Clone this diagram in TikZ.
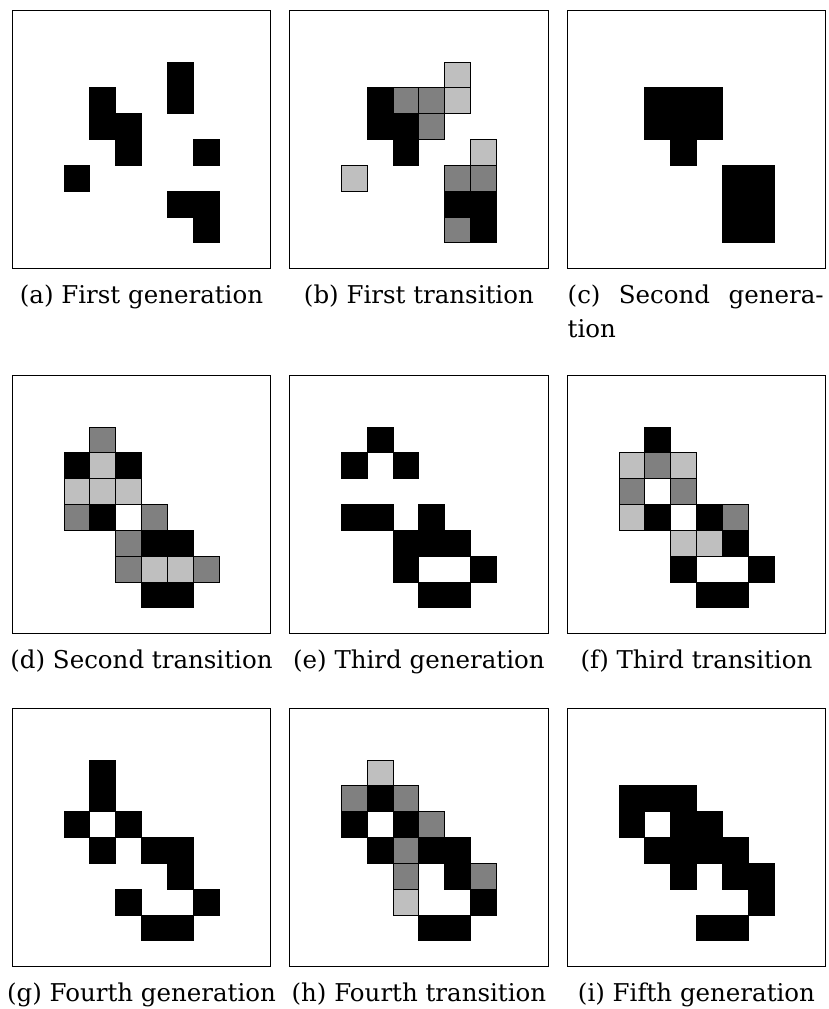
\documentclass[tikz,border=0pt]{standalone}
\usepackage{fontspec}
\setmainfont{DejaVu Serif}
\begin{document}
\begin{tikzpicture}[x=1pt,y=-1pt]
\tikzset{
  cellB/.style={fill=black, draw=black, line width=0.9pt},
  cellG/.style={fill=black!50, draw=black, line width=0.9pt},
  cellL/.style={fill=black!25, draw=black, line width=0.9pt},
  panelframe/.style={draw=black, line width=1pt},
  captext/.style={font=\fontsize{24.5}{34}\selectfont, anchor=base, inner sep=0pt},
}
\def\cs{25.84}
\useasboundingbox[fill=white] (0,0) rectangle (829,1009);
% (a)
\begin{scope}[shift={(12.3,10.3)}]
  \foreach \c/\r in {3/3,3/4,4/4,4/5,6/2,6/3,7/5,2/6,6/7,7/7,7/8}
    \path[cellB] ({\c*\cs},{\r*\cs}) rectangle ++(\cs,\cs);
  \path[panelframe] (0,0) rectangle (258.4,258.4);
\end{scope}
% (b)
\begin{scope}[shift={(289.7,10.3)}]
  \foreach \c/\r in {3/3,3/4,4/4,4/5,6/7,7/7,7/8}
    \path[cellB] ({\c*\cs},{\r*\cs}) rectangle ++(\cs,\cs);
  \foreach \c/\r in {4/3,5/3,5/4,6/6,7/6,6/8}
    \path[cellG] ({\c*\cs},{\r*\cs}) rectangle ++(\cs,\cs);
  \foreach \c/\r in {6/2,6/3,7/5,2/6}
    \path[cellL] ({\c*\cs},{\r*\cs}) rectangle ++(\cs,\cs);
  \path[panelframe] (0,0) rectangle (258.4,258.4);
\end{scope}
% (c)
\begin{scope}[shift={(567.3,10.3)}]
  \foreach \c/\r in {3/3,4/3,5/3,3/4,4/4,5/4,4/5,6/6,7/6,6/7,7/7,6/8,7/8}
    \path[cellB] ({\c*\cs},{\r*\cs}) rectangle ++(\cs,\cs);
  \path[panelframe] (0,0) rectangle (258.4,258.4);
\end{scope}
% (d)
\begin{scope}[shift={(12.3,375.3)}]
  \foreach \c/\r in {2/3,4/3,3/5,5/6,6/6,5/8,6/8}
    \path[cellB] ({\c*\cs},{\r*\cs}) rectangle ++(\cs,\cs);
  \foreach \c/\r in {3/2,2/5,5/5,4/6,4/7,7/7}
    \path[cellG] ({\c*\cs},{\r*\cs}) rectangle ++(\cs,\cs);
  \foreach \c/\r in {3/3,2/4,3/4,4/4,5/7,6/7}
    \path[cellL] ({\c*\cs},{\r*\cs}) rectangle ++(\cs,\cs);
  \path[panelframe] (0,0) rectangle (258.4,258.4);
\end{scope}
% (e)
\begin{scope}[shift={(289.7,375.3)}]
  \foreach \c/\r in {3/2,2/3,4/3,2/5,3/5,5/5,4/6,5/6,6/6,4/7,7/7,5/8,6/8}
    \path[cellB] ({\c*\cs},{\r*\cs}) rectangle ++(\cs,\cs);
  \path[panelframe] (0,0) rectangle (258.4,258.4);
\end{scope}
% (f)
\begin{scope}[shift={(567.3,375.3)}]
  \foreach \c/\r in {3/2,3/5,5/5,6/6,4/7,7/7,5/8,6/8}
    \path[cellB] ({\c*\cs},{\r*\cs}) rectangle ++(\cs,\cs);
  \foreach \c/\r in {3/3,2/4,4/4,6/5}
    \path[cellG] ({\c*\cs},{\r*\cs}) rectangle ++(\cs,\cs);
  \foreach \c/\r in {2/3,4/3,2/5,4/6,5/6}
    \path[cellL] ({\c*\cs},{\r*\cs}) rectangle ++(\cs,\cs);
  \path[panelframe] (0,0) rectangle (258.4,258.4);
\end{scope}
% (g)
\begin{scope}[shift={(12.3,708.3)}]
  \foreach \c/\r in {3/2,3/3,2/4,4/4,3/5,5/5,6/5,6/6,4/7,7/7,5/8,6/8}
    \path[cellB] ({\c*\cs},{\r*\cs}) rectangle ++(\cs,\cs);
  \path[panelframe] (0,0) rectangle (258.4,258.4);
\end{scope}
% (h)
\begin{scope}[shift={(289.7,708.3)}]
  \foreach \c/\r in {3/3,2/4,4/4,3/5,5/5,6/5,6/6,7/7,5/8,6/8}
    \path[cellB] ({\c*\cs},{\r*\cs}) rectangle ++(\cs,\cs);
  \foreach \c/\r in {2/3,4/3,5/4,4/5,4/6,7/6}
    \path[cellG] ({\c*\cs},{\r*\cs}) rectangle ++(\cs,\cs);
  \foreach \c/\r in {3/2,4/7}
    \path[cellL] ({\c*\cs},{\r*\cs}) rectangle ++(\cs,\cs);
  \path[panelframe] (0,0) rectangle (258.4,258.4);
\end{scope}
% (i)
\begin{scope}[shift={(567.3,708.3)}]
  \foreach \c/\r in {2/3,3/3,4/3,2/4,4/4,5/4,3/5,4/5,5/5,6/5,4/6,6/6,7/6,7/7,5/8,6/8}
    \path[cellB] ({\c*\cs},{\r*\cs}) rectangle ++(\cs,\cs);
  \path[panelframe] (0,0) rectangle (258.4,258.4);
\end{scope}
% captions
\node[captext] (capa) at (141.5,303.3) {(a) First generation};
\node[captext] (capb) at (418.9,303.3) {(b) First transition};
\node[captext, anchor=base west, align=left] (capc) at (567.5,337.5) {\makebox[256pt][s]{(c) Second genera-}\\tion};
\node[captext] (capd) at (141.5,668.5) {(d) Second transition};
\node[captext] (cape) at (418.9,668.5) {(e) Third generation};
\node[captext] (capf) at (696.5,668.5) {(f) Third transition};
\node[captext] (capg) at (141.5,1001) {(g) Fourth generation};
\node[captext] (caph) at (418.9,1001) {(h) Fourth transition};
\node[captext] (capi) at (696.5,1001) {(i) Fifth generation};
\end{tikzpicture}
\end{document}
